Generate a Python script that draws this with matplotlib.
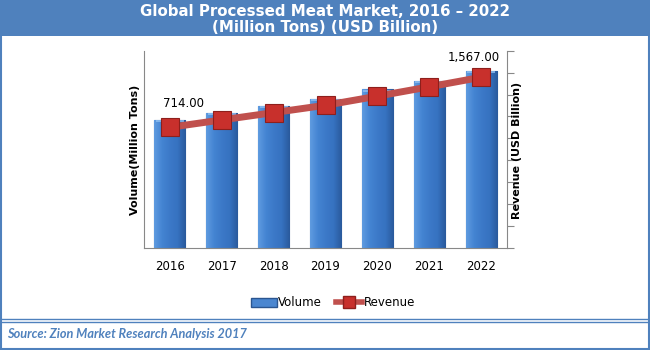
import numpy as np
import matplotlib.pyplot as plt
from matplotlib.patches import Rectangle
from matplotlib.lines import Line2D
from matplotlib.colors import LinearSegmentedColormap

years = ["2016", "2017", "2018", "2019", "2020", "2021", "2022"]
volume = [64.9, 68.4, 72.1, 75.7, 80.4, 84.8, 89.9]
revenue = [714, 840, 965, 1090, 1245, 1405, 1567]
revenue_labels = {0: "714.00", 6: "1,567.00"}

W, H = 650, 350
blue = "#4F81BD"

fig = plt.figure(figsize=(W / 100, H / 100), dpi=100)
fig.patch.set_facecolor("white")

def px(x0, y0, x1, y1):
    # pixel box (top-left origin) -> figure fraction
    return [x0 / W, 1 - y1 / H, (x1 - x0) / W, (y1 - y0) / H]

# header band and borders
fig.patches.append(Rectangle((0, 1 - 36 / H), 1, 36 / H, transform=fig.transFigure,
                             facecolor=blue, edgecolor="none", zorder=0))
fig.patches.append(Rectangle((1 / W, 1 / H), 1 - 2 / W, 1 - 2 / H, transform=fig.transFigure,
                             facecolor="none", edgecolor=blue, lw=1.5, zorder=0))
for yy in (319, 322):
    fig.add_artist(Line2D([0, 1], [1 - yy / H] * 2, transform=fig.transFigure, color=blue, lw=1))

fig.text(0.5, 1 - 12 / H, "Global Processed Meat Market, 2016 \u2013 2022", color="white",
         fontsize=10.8, fontweight="bold", ha="center", va="center")
fig.text(0.5, 1 - 28 / H, "(Million Tons) (USD Billion)", color="white",
         fontsize=10.8, fontweight="bold", ha="center", va="center")

ax = fig.add_axes(px(144, 50.7, 507, 248))
x = np.arange(len(years))
bars = ax.bar(x, volume, width=0.6, color="#3D78C6", edgecolor="#2A5590", linewidth=0.8, zorder=2)

# horizontal shading inside the bars
cmap = LinearSegmentedColormap.from_list("barshade", ["#5F9BE0", "#4484D2", "#3C79C8",
                                                      "#3672C0", "#2A5A9C"])
grad = np.linspace(0, 1, 64).reshape(1, -1)
for b in bars:
    x0, y0 = b.get_x(), b.get_y()
    im = ax.imshow(grad, cmap=cmap, aspect="auto", zorder=2.1,
                   extent=[x0, x0 + b.get_width(), y0, y0 + b.get_height()])
    im.set_clip_path(b)
    # light rim along the top
    ax.plot([x0 + 0.03, x0 + b.get_width() - 0.03], [y0 + b.get_height() - 0.6] * 2,
            color="#8DBDF0", lw=1.2, zorder=2.2, solid_capstyle="butt")

ax.set_xlim(-0.5, len(years) - 0.5)
ax.set_ylim(0, 100)
ax.set_yticks([])
ax.set_xticks(x)
ax.set_xticklabels(years, fontsize=8.5)
ax.tick_params(axis="x", length=0, pad=9)
for s in ("top", "right"):
    ax.spines[s].set_visible(False)
for s in ("left", "bottom"):
    ax.spines[s].set_color("#888888")

ax2 = ax.twinx()
ax2.plot(x, revenue, color="#C0504D", lw=5, marker="s", markersize=13.5,
         markerfacecolor="#C8302C", markeredgecolor="#8E1F1C", markeredgewidth=0.8, zorder=3)
ax2.set_ylim(-1345, 2021)
ax2.set_yticks(np.linspace(-1345, 2021, 10))
ax2.set_yticklabels([])
ax2.tick_params(axis="y", length=5, color="#888888")
for s in ("top", "left", "bottom"):
    ax2.spines[s].set_visible(False)
ax2.spines["right"].set_color("#888888")
for i, lab in revenue_labels.items():
    off = (10, 17) if i == 0 else (-5, 14)
    ax2.annotate(lab, (x[i], revenue[i]), xytext=off, textcoords="offset points",
                 ha="center", va="center", fontsize=8.5)

fig.text(135 / W, 1 - 150 / H, "Volume(Million Tons)", rotation=90, fontsize=8,
         fontweight="bold", ha="center", va="center")
fig.text(517 / W, 1 - 150 / H, "Revenue (USD Billion)", rotation=90, fontsize=8,
         fontweight="bold", ha="center", va="center")

handles = [Rectangle((0, 0), 1, 1, facecolor="#4A86D0", edgecolor="#2A5590"),
           Line2D([], [], color="#C0504D", lw=4, marker="s", markersize=8,
                  markerfacecolor="#C8302C", markeredgecolor="#8E1F1C")]
fig.legend(handles, ["Volume", "Revenue"], loc="center", bbox_to_anchor=(333 / W, 1 - 303 / H),
           ncol=2, frameon=False, fontsize=8.5, handlelength=2.2, handletextpad=0.1,
           columnspacing=1.2)

fig.text(7 / W, 1 - 334 / H, "Source: Zion Market Research Analysis 2017", color=blue,
         fontsize=9.2, fontstyle="italic", fontweight="bold", family="Lato",
         ha="left", va="center")

fig.savefig("out.png", dpi=100)
